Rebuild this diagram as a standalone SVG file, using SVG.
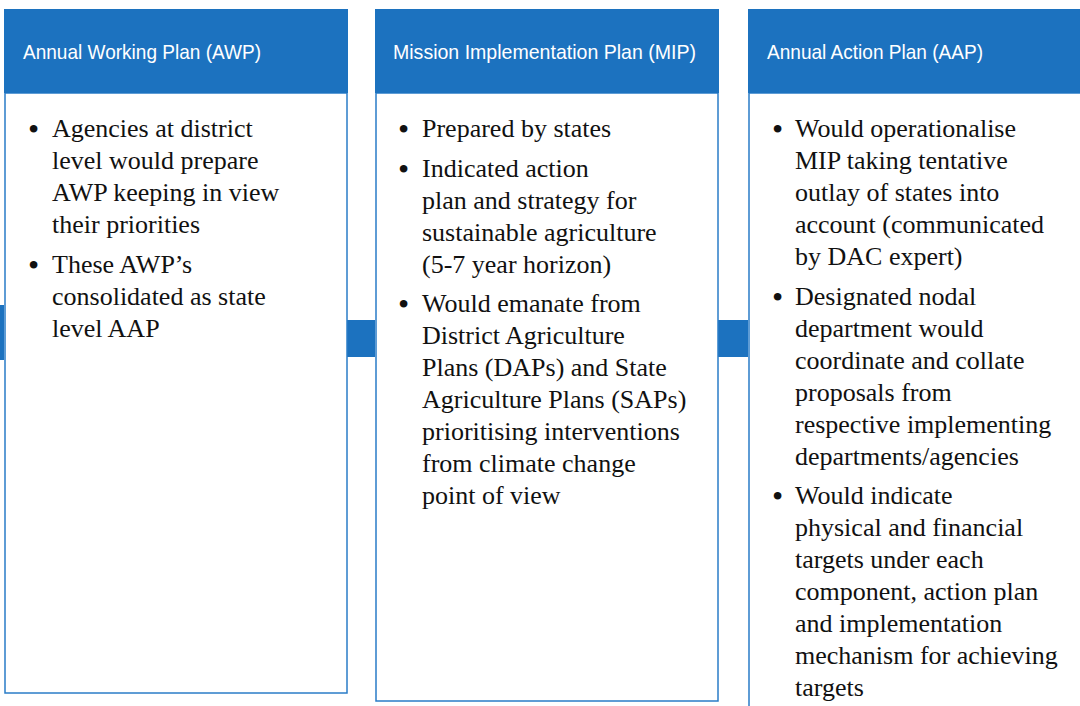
<svg xmlns="http://www.w3.org/2000/svg" width="1080" height="706" viewBox="0 0 1080 706">
<style>
.hdr{fill:#1c72bf}
.box{fill:#fff;stroke:#2a7cc7;stroke-width:1.5}
.conn{fill:#1c72bf}
.ht{font-family:"Liberation Sans",Arial,sans-serif;font-size:21px;fill:#fff}
.bt{font-family:"Liberation Serif","Times New Roman",serif;font-size:26px;fill:#111}
.bu{font-size:32px}
</style>
<rect width="1080" height="706" fill="#fff"/>
<g id="connectors">
<rect class="conn" x="0" y="305" width="4" height="55"/>
<rect class="conn" x="347" y="320" width="28" height="37"/>
<rect class="conn" x="718" y="320" width="30" height="37"/>
</g>
<g id="awp">
<rect class="box" x="5" y="93" width="342" height="600"/>
<rect class="hdr" x="4" y="9" width="344" height="84"/>
<text class="ht" x="23" y="59" textLength="238" lengthAdjust="spacingAndGlyphs">Annual Working Plan (AWP)</text>
<text class="bt">
<tspan class="bu" x="28" y="140">•</tspan><tspan x="52" y="137">Agencies at district</tspan>
<tspan x="52" y="169">level would prepare</tspan>
<tspan x="52" y="201">AWP keeping in view</tspan>
<tspan x="52" y="233">their priorities</tspan>
<tspan class="bu" x="28" y="276">•</tspan><tspan x="52" y="273">These AWP’s</tspan>
<tspan x="52" y="305">consolidated as state</tspan>
<tspan x="52" y="337">level AAP</tspan>
</text>
</g>
<g id="mip">
<rect class="box" x="376" y="93" width="342" height="608"/>
<rect class="hdr" x="375" y="9" width="344" height="84"/>
<text class="ht" x="393" y="59" textLength="303" lengthAdjust="spacingAndGlyphs">Mission Implementation Plan (MIP)</text>
<text class="bt">
<tspan class="bu" x="398" y="140">•</tspan><tspan x="422" y="137">Prepared by states</tspan>
<tspan class="bu" x="398" y="180">•</tspan><tspan x="422" y="177">Indicated action</tspan>
<tspan x="422" y="209">plan and strategy for</tspan>
<tspan x="422" y="241">sustainable agriculture</tspan>
<tspan x="422" y="273">(5-7 year horizon)</tspan>
<tspan class="bu" x="398" y="315">•</tspan><tspan x="422" y="312">Would emanate from</tspan>
<tspan x="422" y="344">District Agriculture</tspan>
<tspan x="422" y="376">Plans (DAPs) and State</tspan>
<tspan x="422" y="408">Agriculture Plans (SAPs)</tspan>
<tspan x="422" y="440">prioritising interventions</tspan>
<tspan x="422" y="472">from climate change</tspan>
<tspan x="422" y="504">point of view</tspan>
</text>
</g>
<g id="aap">
<rect class="box" x="749" y="93" width="340" height="630"/>
<rect class="hdr" x="748" y="9" width="340" height="84"/>
<text class="ht" x="767" y="59" textLength="216" lengthAdjust="spacingAndGlyphs">Annual Action Plan (AAP)</text>
<text class="bt">
<tspan class="bu" x="772" y="140">•</tspan><tspan x="795" y="137">Would operationalise</tspan>
<tspan x="795" y="169">MIP taking tentative</tspan>
<tspan x="795" y="201">outlay of states into</tspan>
<tspan x="795" y="233">account (communicated</tspan>
<tspan x="795" y="265">by DAC expert)</tspan>
<tspan class="bu" x="772" y="308">•</tspan><tspan x="795" y="305">Designated nodal</tspan>
<tspan x="795" y="337">department would</tspan>
<tspan x="795" y="369">coordinate and collate</tspan>
<tspan x="795" y="401">proposals from</tspan>
<tspan x="795" y="433">respective implementing</tspan>
<tspan x="795" y="465">departments/agencies</tspan>
<tspan class="bu" x="772" y="507">•</tspan><tspan x="795" y="504">Would indicate</tspan>
<tspan x="795" y="536">physical and financial</tspan>
<tspan x="795" y="568">targets under each</tspan>
<tspan x="795" y="600">component, action plan</tspan>
<tspan x="795" y="632">and implementation</tspan>
<tspan x="795" y="664">mechanism for achieving</tspan>
<tspan x="795" y="696">targets</tspan>
</text>
</g>
</svg>
